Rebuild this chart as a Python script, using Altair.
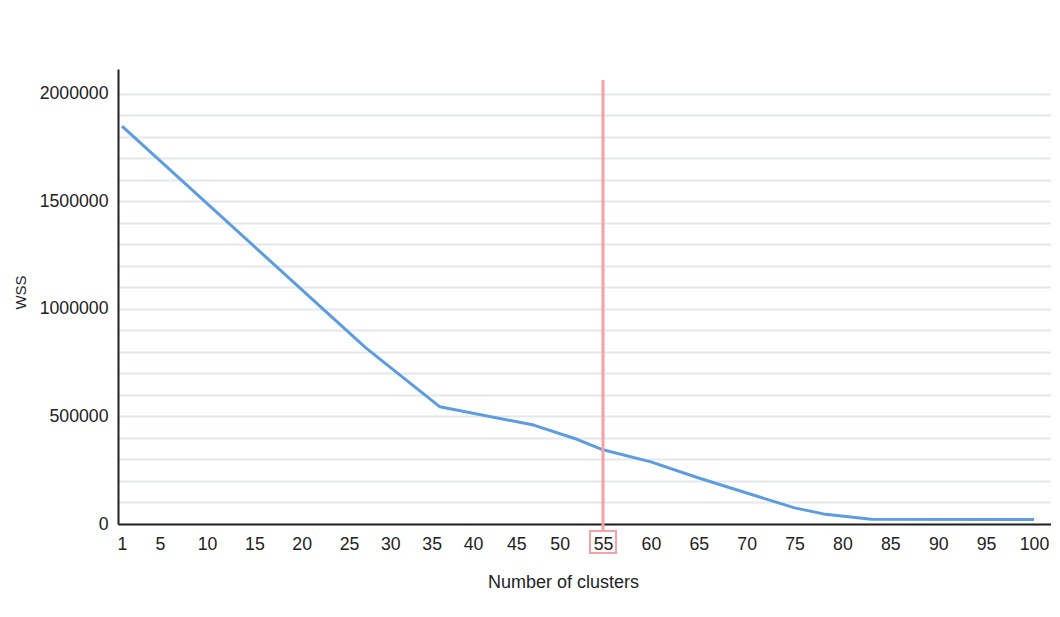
import altair as alt
import pandas as pd

# Number of clusters (k) and within-cluster sum of squares
clusters = [1, 27, 36, 47, 52, 55, 60, 65, 75, 78, 83, 100]
wss = [1850000, 820000, 545000, 460000, 394000, 345000, 289000, 214000, 75000, 47000, 22000, 21000]

x_ticks = [1, 5, 10, 15, 20, 25, 30, 35, 40, 45, 50, 55, 60, 65, 70, 75, 80, 85, 90, 95, 100]
y_grid = list(range(0, 2000001, 100000))
selected_k = [55]

df = pd.DataFrame({"k": clusters, "wss": wss})
sel = pd.DataFrame({"k": selected_k})

FONT = "Liberation Sans"
TXT = "#222222"
PINK = "#f4a2a7"

# piecewise x scale reproducing the uneven spacing of the original axis
x_scale = alt.Scale(domain=[0.58, 1, 25, 40, 55, 100, 101.8],
                    range=[0, 4, 231, 355, 485, 916, 933], nice=False, zero=False)
y_scale = alt.Scale(domain=[0, 2116000], nice=False, zero=True)

line = alt.Chart(df).mark_line(color="#5b9de0", strokeWidth=3, strokeJoin="round").encode(
    x=alt.X("k:Q", scale=x_scale,
            axis=alt.Axis(values=x_ticks, title="Number of clusters", grid=False, ticks=False,
                          domainColor=TXT, domainWidth=2, labelFont=FONT, labelFontSize=17.7,
                          labelColor=TXT, labelPadding=11, labelFlush=False,
                          titleFont=FONT, titleFontSize=18, titleFontWeight="normal",
                          titleColor=TXT, titleX=445, titleY=58, titleBaseline="middle",
                          titleAlign="center")),
    y=alt.Y("wss:Q", scale=y_scale,
            axis=alt.Axis(values=y_grid, title="WSS", ticks=False, grid=True,
                          gridColor="#e4e7ec", gridWidth=2,
                          domainColor=TXT, domainWidth=2,
                          labelExpr="datum.value % 500000 === 0 ? format(datum.value, 'd') : ''",
                          labelFont=FONT, labelFontSize=17.7, labelColor=TXT, labelPadding=10,
                          titleFont=FONT, titleFontSize=15, titleFontWeight="normal",
                          titleColor=TXT, titleX=-98, titleY=223, titleAngle=-90,
                          titleAlign="center", titleBaseline="middle")),
)

rule = alt.Chart(sel).mark_rule(color=PINK, strokeWidth=3).encode(
    x=alt.X("k:Q"),
    y=alt.value(11),
    y2=alt.value(462),
)

box = alt.Chart(sel).mark_point(
    shape="M-1,-0.84L1,-0.84L1,0.84L-1,0.84Z", size=676, filled=False,
    stroke=PINK, strokeWidth=2, opacity=1,
).encode(
    x=alt.X("k:Q"),
    y=alt.value(473),
)

chart = alt.layer(line, rule, box).properties(
    width=933, height=455,
    autosize=alt.AutoSizeParams(type="none"),
    padding={"left": 110, "top": 61, "right": 0, "bottom": 85},
    background="white",
).configure_view(stroke=None)

chart.save("out.html", embed_options={"renderer": "svg", "actions": False})
